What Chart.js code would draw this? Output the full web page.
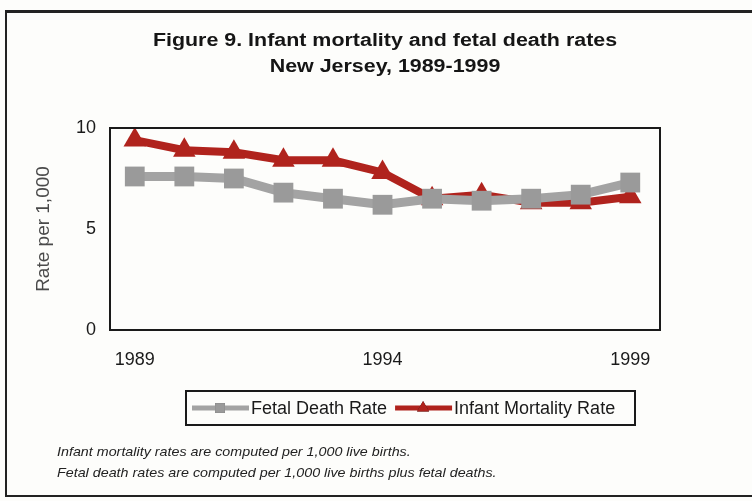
<!DOCTYPE html>
<html>
<head>
<meta charset="utf-8">
<script src="https://cdn.jsdelivr.net/npm/chart.js@4"></script>
<style>
	body { margin: 0; background: #fff; }
	#wrap { position: relative; width: 752px; height: 501px; overflow: hidden; background: #fdfdfb; }
	#frame { position: absolute; left: 5px; top: 10px; width: 760px; height: 487px; border: 2px solid #222; border-top-width: 3px; box-sizing: border-box; }
	#chart { position: absolute; left: 0; top: 0; }
	.note { position: absolute; left: 57px; font: italic 13px "Liberation Sans", Arial, sans-serif; color: #222; transform: scaleX(1.1); transform-origin: left center; white-space: nowrap; }
</style>
</head>
<body>
<div id="wrap">
	<div id="frame"></div>
	<canvas id="chart" width="752" height="501"></canvas>
	<div class="note" style="top:444px">Infant mortality rates are computed per 1,000 live births.</div>
	<div class="note" style="top:465px">Fetal death rates are computed per 1,000 live births plus fetal deaths.</div>
</div>
<script>
// Values
const years = [1989, 1990, 1991, 1992, 1993, 1994, 1995, 1996, 1997, 1998, 1999];
const fetalDeathRate = [7.6, 7.6, 7.5, 6.8, 6.5, 6.2, 6.5, 6.4, 6.5, 6.7, 7.3];
const infantMortalityRate = [9.4, 8.9, 8.8, 8.4, 8.4, 7.8, 6.5, 6.7, 6.3, 6.3, 6.6];
const xTickYears = [1989, 1994, 1999];
const yTicks = [0, 5, 10];
const titleLines = ['Figure 9. Infant mortality and fetal death rates', 'New Jersey, 1989-1999'];

const GRAY = '#a3a3a3';
const RED = '#b0231d';
const FONT = '"Liberation Sans", Arial, sans-serif';

// Title, slightly stretched like the scanned original
const wideTitle = {
	id: 'wideTitle',
	afterDraw(chart) {
		const ctx = chart.ctx;
		const cx = (chart.chartArea.left + chart.chartArea.right) / 2;
		ctx.save();
		ctx.font = 'bold 18px ' + FONT;
		ctx.fillStyle = '#151515';
		ctx.textAlign = 'center';
		ctx.textBaseline = 'middle';
		titleLines.forEach((line, i) => {
			ctx.save();
			ctx.translate(cx, 41 + i * 26);
			ctx.scale(1.19, 1);
			ctx.fillText(line, 0, 0);
			ctx.restore();
		});
		ctx.restore();
	}
};

// Black box around the plot area
const plotBorder = {
	id: 'plotBorder',
	afterDatasetsDraw(chart) {
		const a = chart.chartArea;
		const ctx = chart.ctx;
		ctx.save();
		ctx.strokeStyle = '#1a1a1a';
		ctx.lineWidth = 2;
		ctx.strokeRect(a.left, a.top, a.right - a.left, a.bottom - a.top);
		ctx.restore();
	}
};

// Boxed legend under the chart, line + marker for each series
const boxLegend = {
	id: 'boxLegend',
	afterDraw(chart) {
		const ctx = chart.ctx;
		const left = 186, top = 391, width = 449, height = 34;
		ctx.save();
		ctx.strokeStyle = '#1a1a1a';
		ctx.lineWidth = 2;
		ctx.strokeRect(left, top, width, height);
		ctx.font = '18px ' + FONT;
		ctx.textBaseline = 'middle';
		const cy = top + height / 2;
		let x = left + 6;
		chart.data.datasets.forEach((ds) => {
			ctx.strokeStyle = ds.borderColor;
			ctx.lineWidth = 5;
			ctx.beginPath();
			ctx.moveTo(x, cy);
			ctx.lineTo(x + 57, cy);
			ctx.stroke();
			Chart.helpers.drawPoint(ctx, { pointStyle: ds.pointStyle, radius: 7, borderWidth: 0 }, x + 28, cy);
			ctx.fillStyle = ds.pointBackgroundColor;
			ctx.fill();
			ctx.fillStyle = '#1a1a1a';
			ctx.fillText(ds.label, x + 59, cy + 1);
			x += 59 + ctx.measureText(ds.label).width + 8;
		});
		ctx.restore();
	}
};

new Chart(document.getElementById('chart'), {
	type: 'line',
	data: {
		datasets: [
			{
				label: 'Fetal Death Rate',
				data: years.map((y, i) => ({ x: y, y: fetalDeathRate[i] })),
				borderColor: GRAY,
				borderWidth: 9,
				pointStyle: 'rect',
				pointRadius: 14,
				pointBackgroundColor: '#9a9a9a',
				pointBorderWidth: 0,
				tension: 0,
			},
			{
				label: 'Infant Mortality Rate',
				data: years.map((y, i) => ({ x: y, y: infantMortalityRate[i] })),
				borderColor: RED,
				borderWidth: 8,
				pointStyle: 'triangle',
				pointRadius: 13,
				pointBackgroundColor: RED,
				pointBorderWidth: 0,
				tension: 0,
			},
		],
	},
	options: {
		responsive: false,
		animation: false,
		layout: { padding: { left: 18, right: 92, top: 128, bottom: 131 } },
		plugins: {
			legend: { display: false },
			tooltip: { enabled: false },
			title: { display: false },
		},
		scales: {
			x: {
				type: 'linear',
				min: 1988.5,
				max: 1999.6,
				grid: { display: false, drawTicks: false },
				border: { display: false },
				afterBuildTicks(scale) {
					scale.ticks = xTickYears.map((v) => ({ value: v }));
				},
				afterFit(scale) { scale.height = 40; },
				ticks: {
					padding: 19,
					color: '#1a1a1a',
					font: { family: FONT, size: 18 },
					callback: (v) => String(v),
				},
			},
			y: {
				min: 0,
				max: 10,
				grid: { display: false, drawTicks: false },
				border: { display: false },
				afterBuildTicks(scale) {
					scale.ticks = yTicks.map((v) => ({ value: v }));
				},
				afterFit(scale) { scale.width = 92; },
				ticks: {
					padding: 14,
					color: '#1a1a1a',
					font: { family: FONT, size: 18 },
				},
				title: {
					display: true,
					text: 'Rate per 1,000',
					color: '#4a4a4a',
					font: { family: FONT, size: 19 },
					padding: { top: 14, bottom: 0 },
				},
			},
		},
	},
	plugins: [plotBorder, boxLegend, wideTitle],
});
</script>
</body>
</html>
